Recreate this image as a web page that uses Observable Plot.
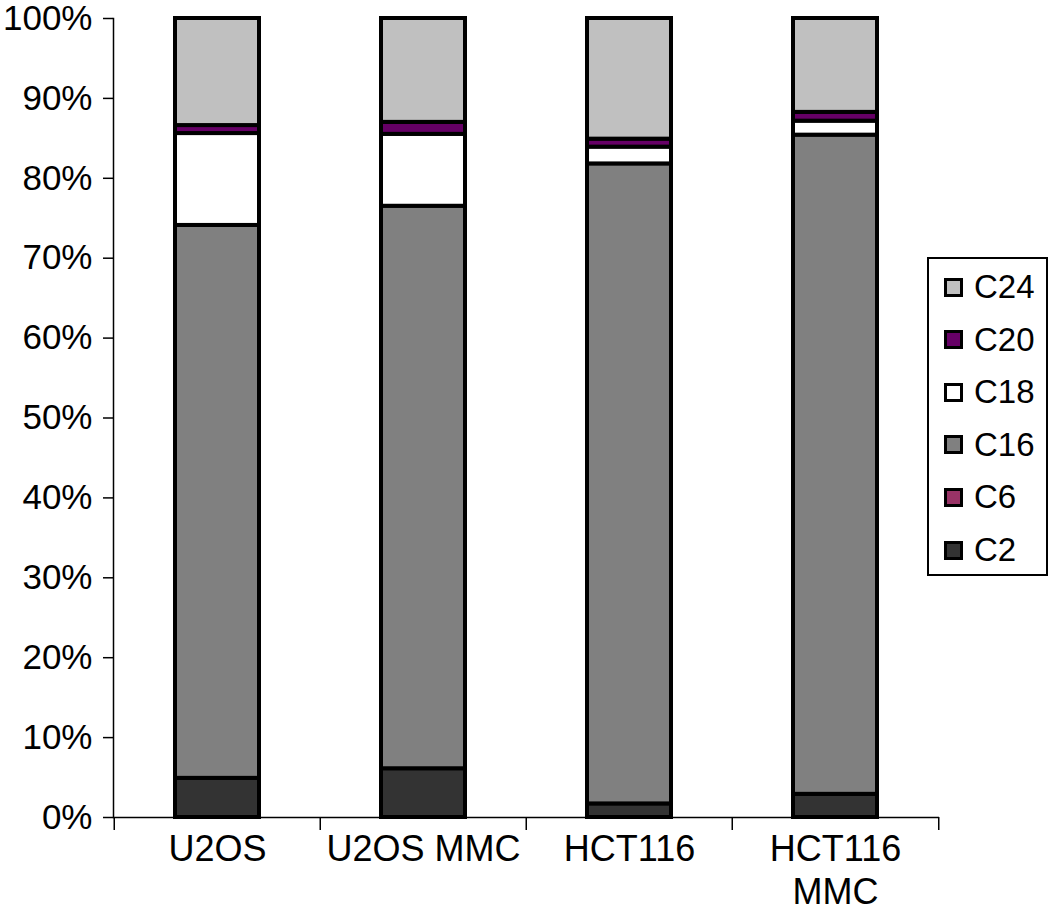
<!DOCTYPE html>
<html>
<head>
<meta charset="utf-8">
<script src="https://cdn.jsdelivr.net/npm/d3@7"></script>
<script src="https://cdn.jsdelivr.net/npm/@observablehq/plot@0.6"></script>
<style>
  html, body { margin: 0; padding: 0; background: #fff; }
  #wrap { position: relative; width: 1050px; height: 914px; font-family: "Liberation Sans", Arial, Helvetica, sans-serif; }
  #legend { position: absolute; left: 927px; top: 257px; width: 117px; height: 315px; border: 2px solid #000; background: #fff; box-sizing: content-box; }
  .row { position: absolute; left: 15px; height: 40px; display: flex; align-items: center; }
  .sw { width: 13px; height: 13px; border: 3px solid #000; margin-right: 11px; }
  .lb { font-size: 33px; color: #000; line-height: 40px; }
</style>
</head>
<body>
<div id="wrap"><div id="chart"></div><div id="legend"></div></div>
<script>
const categories = ["U2OS", "U2OS MMC", "HCT116", "HCT116 MMC"];
const categoryLabels = ["U2OS", "U2OS MMC", "HCT116", "HCT116\nMMC"];
const series = ["C2", "C6", "C16", "C18", "C20", "C24"];
const seriesColors = ["#333333", "#993366", "#808080", "#ffffff", "#660066", "#c0c0c0"];
const C2  = [4.9, 6.1, 1.7, 2.9];
const C6  = [0, 0, 0, 0];
const C16 = [69.2, 70.4, 80.1, 82.5];
const C18 = [11.5, 9.0, 2.1, 1.75];
const C20 = [1.0, 1.5, 1.0, 1.1];
const C24 = [13.4, 13.0, 15.1, 11.75];
const yTicks = [0, 10, 20, 30, 40, 50, 60, 70, 80, 90, 100];

const valuesBySeries = {C2, C6, C16, C18, C20, C24};
const data = [];
series.forEach(s => categories.forEach((c, i) => data.push({cat: c, series: s, value: valuesBySeries[s][i]})));

const W = 1050, H = 914, mL = 113, mR = 111, mT = 18, mB = 97;
const step = (W - mL - mR) / categories.length;
const labelOf = d => categoryLabels[categories.indexOf(d)];

const chart = Plot.plot({
  width: W, height: H,
  marginLeft: mL, marginRight: mR, marginTop: mT, marginBottom: mB,
  style: {fontFamily: "'Liberation Sans', Arial, Helvetica, sans-serif", color: "#000", background: "#fff"},
  x: {domain: categories, paddingInner: 0.59, paddingOuter: 0.295, axis: null},
  y: {domain: [0, 100], axis: null},
  color: {domain: series, range: seriesColors},
  marks: [
    Plot.barY(data, Plot.stackY({
      x: "cat", y: "value", z: "series", fill: "series", order: series,
      stroke: "#000", strokeWidth: 4
    })),
    Plot.frame({anchor: "left", stroke: "#000", strokeWidth: 1.5}),
    Plot.ruleY([0], {stroke: "#000", strokeWidth: 1.5}),
    Plot.axisY({ticks: yTicks, tickSize: 10, tickPadding: 11, fontSize: 35, tickFormat: d => d + "%", strokeWidth: 1.5, label: null}),
    Plot.axisX({ticks: categories, tickSize: 0, tickPadding: 13, fontSize: 36, lineHeight: 1.2, tickFormat: labelOf, label: null}),
    Plot.axisX({ticks: categories, tickSize: 13, tickFormat: () => "", dx: -step / 2, strokeWidth: 1.5, label: null}),
    Plot.axisX({ticks: [categories[categories.length - 1]], tickSize: 13, tickFormat: () => "", dx: step / 2, strokeWidth: 1.5, label: null})
  ]
});
document.getElementById("chart").appendChild(chart);

const legend = document.getElementById("legend");
const legendOrder = series.slice().reverse();
legendOrder.forEach((s, i) => {
  const row = document.createElement("div");
  row.className = "row";
  row.style.top = (8 + i * 52.6) + "px";
  const sw = document.createElement("div");
  sw.className = "sw";
  sw.style.background = seriesColors[series.indexOf(s)];
  const lb = document.createElement("span");
  lb.className = "lb";
  lb.textContent = s;
  row.appendChild(sw); row.appendChild(lb);
  legend.appendChild(row);
});
</script>
</body>
</html>
